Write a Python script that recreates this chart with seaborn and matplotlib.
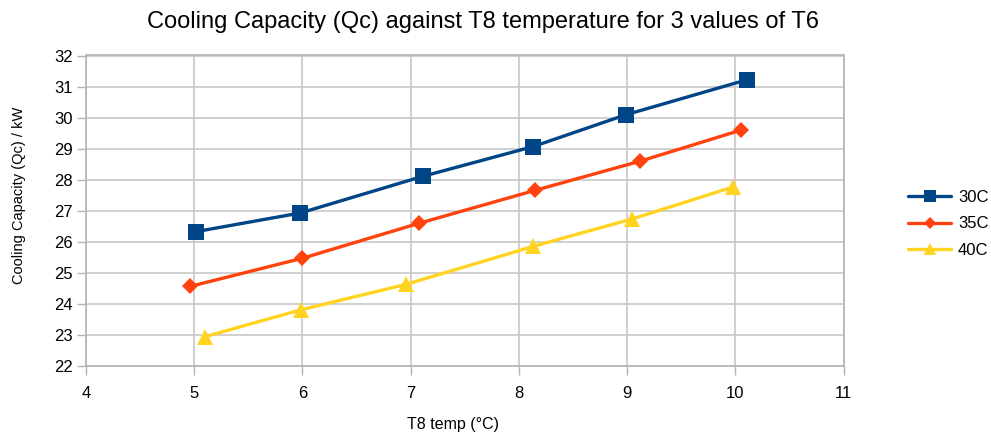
import matplotlib
matplotlib.use("Agg")
import matplotlib.pyplot as plt
import seaborn as sns
import pandas as pd

series_names = ["30C", "35C", "40C"]
t8_30 = [5.02, 5.98, 7.11, 8.13, 8.99, 10.11]
qc_30 = [26.32, 26.92, 28.10, 29.06, 30.09, 31.22]
t8_35 = [4.96, 6.00, 7.08, 8.15, 9.12, 10.05]
qc_35 = [24.55, 25.46, 26.59, 27.65, 28.59, 29.59]
t8_40 = [5.10, 5.99, 6.96, 8.13, 9.05, 9.98]
qc_40 = [22.93, 23.80, 24.62, 25.84, 26.73, 27.76]

colors = ["#004586", "#ff420e", "#ffd320"]
markers = ["s", "D", "^"]
msizes = [11, 8, 11]

rows = []
for name, xs, ys in zip(series_names, [t8_30, t8_35, t8_40], [qc_30, qc_35, qc_40]):
    for x, y in zip(xs, ys):
        rows.append({"T8": x, "Qc": y, "T6": name})
df = pd.DataFrame(rows)

sns.set_style("white")
plt.rcParams["font.family"] = ["Liberation Sans", "DejaVu Sans"]
plt.rcParams["text.color"] = "black"

fig = plt.figure(figsize=(9.91, 4.36), dpi=100)
ax = fig.add_axes([86 / 991, 1 - 365.5 / 436, (843.5 - 86) / 991, (365.5 - 55.5) / 436])

for name, c, m, ms in zip(series_names, colors, markers, msizes):
    sub = df[df["T6"] == name]
    sns.lineplot(data=sub, x="T8", y="Qc", ax=ax, color=c, marker=m, markersize=ms,
                 markeredgewidth=0, linewidth=2.4, label=name, sort=False,
                 estimator=None)

ax.set_xlim(4, 11)
ax.set_ylim(22, 32)
ax.set_xticks(range(4, 12))
ax.set_yticks(range(22, 33))
ax.grid(True, color="#c8c8c8", linewidth=1.2)
ax.set_axisbelow(True)
for s in ["left", "bottom", "top", "right"]:
    ax.spines[s].set_color("#b3b3b3")
    ax.spines[s].set_linewidth(1.2)
ax.tick_params(axis="both", which="major", length=6.5, width=1, color="#b3b3b3",
               labelsize=12, labelcolor="black", direction="out")
ax.tick_params(axis="x", pad=8)
ax.tick_params(axis="y", pad=3)
ax.tick_params(left=True, bottom=True)

ax.set_xlabel("T8 temp (°C)", fontsize=11.5, labelpad=12, color="black",
              x=(453 - 86) / 757.5)
ax.set_ylabel("Cooling Capacity (Qc) / kW", fontsize=10.5, labelpad=20, color="black",
              y=(365.5 - 195.5) / 310)
fig.suptitle("Cooling Capacity (Qc) against T8 temperature for 3 values of T6",
             fontsize=17, x=483 / 991, y=1 - 22 / 436, va="center", color="black")

leg = ax.legend(loc="center left", bbox_to_anchor=(1.085, (365.5 - 224) / 310),
                frameon=False, fontsize=12, handlelength=2.6, labelspacing=0.7,
                handletextpad=0.4, borderaxespad=0, borderpad=0, markerscale=0.75)

fig.savefig("out.png", dpi=100)
